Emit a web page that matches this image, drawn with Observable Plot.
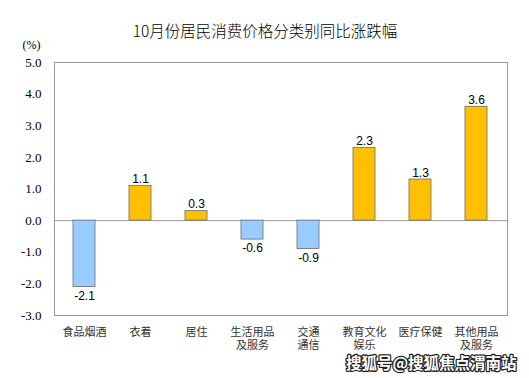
<!DOCTYPE html>
<html>
<head>
<meta charset="utf-8">
<script src="https://cdn.jsdelivr.net/npm/d3@7"></script>
<script src="https://cdn.jsdelivr.net/npm/@observablehq/plot@0.6"></script>
<style>
  html, body { margin: 0; padding: 0; background: #fff; }
  svg { display: block; }
</style>
</head>
<body>
<div id="chart"></div>
<script>
const categories = ["食品烟酒", "衣着", "居住", "生活用品\n及服务", "交通\n通信", "教育文化\n娱乐", "医疗保健", "其他用品\n及服务"];
const values = [-2.1, 1.1, 0.3, -0.6, -0.9, 2.3, 1.3, 3.6];
const yTicks = [-3, -2, -1, 0, 1, 2, 3, 4, 5];
const title = "10月份居民消费价格分类别同比涨跌幅";
const unitLabel = "(%)";
const watermark = "搜狐号@搜狐焦点渭南站";

const data = categories.map((c, i) => ({category: c, value: values[i]}));
const cjk = "'Noto Sans CJK SC', sans-serif";

const chart = Plot.plot({
  width: 529,
  height: 378,
  marginTop: 62,
  marginBottom: 63,
  marginLeft: 54,
  marginRight: 22,
  style: {background: "#fff", overflow: "visible"},
  x: {domain: categories, paddingInner: 0.6, paddingOuter: 0.3, axis: null},
  y: {domain: [-3, 5], axis: null},
  marks: [
    Plot.frame({stroke: "#999", strokeWidth: 1}),
    Plot.ruleY([0], {stroke: "#999", strokeWidth: 1}),
    Plot.barY(data, {
      x: "category", y: "value",
      fill: d => d.value < 0 ? "#99CCFF" : "#FFC000",
      stroke: "#6b6b6b", strokeWidth: 0.8
    }),
    Plot.text(data, {
      x: "category", y: "value",
      text: d => d.value.toFixed(1),
      lineAnchor: "bottom",
      filter: d => d.value >= 0,
      dy: -3,
      fontFamily: "'Liberation Sans', Arial, sans-serif", fontSize: 12, fill: "#000"
    }),
    Plot.text(data, {
      x: "category", y: "value",
      text: d => d.value.toFixed(1),
      lineAnchor: "top",
      filter: d => d.value < 0,
      dy: 4,
      fontFamily: "'Liberation Sans', Arial, sans-serif", fontSize: 12, fill: "#000"
    }),
    Plot.axisY(yTicks, {
      tickSize: 0, tickPadding: 13,
      tickFormat: d => d.toFixed(1),
      fontFamily: "'Liberation Serif', 'Times New Roman', serif", fontSize: 13, fill: "#000",
      label: null
    }),
    // category labels, first and second line
    Plot.text(data, {
      x: "category", frameAnchor: "bottom", lineAnchor: "middle", dy: 17,
      text: d => d.category.split("\n")[0],
      fontFamily: cjk, fontSize: 11, fill: "#333"
    }),
    Plot.text(data.filter(d => d.category.includes("\n")), {
      x: "category", frameAnchor: "bottom", lineAnchor: "middle", dy: 30,
      text: d => d.category.split("\n")[1],
      fontFamily: cjk, fontSize: 11, fill: "#333"
    }),
    Plot.text([title], {
      frameAnchor: "top", dx: -16, dy: -37, text: d => d,
      fontFamily: cjk, fontSize: 15.5, fontWeight: 300, fill: "#000"
    }),
    Plot.text([unitLabel], {
      frameAnchor: "top-left", dx: -32, dy: -22, text: d => d, textAnchor: "start",
      fontFamily: "'Liberation Serif', 'Times New Roman', serif", fontSize: 12, fill: "#000"
    }),
    Plot.text([watermark], {
      frameAnchor: "bottom-right", dx: 9, dy: 53, text: d => d, textAnchor: "end",
      fontFamily: cjk, fontSize: 15.5, fontWeight: "bold",
      fill: "#fff", stroke: "#222", strokeWidth: 2.5, paintOrder: "stroke"
    })
  ]
});
document.getElementById("chart").appendChild(chart);
</script>
</body>
</html>
